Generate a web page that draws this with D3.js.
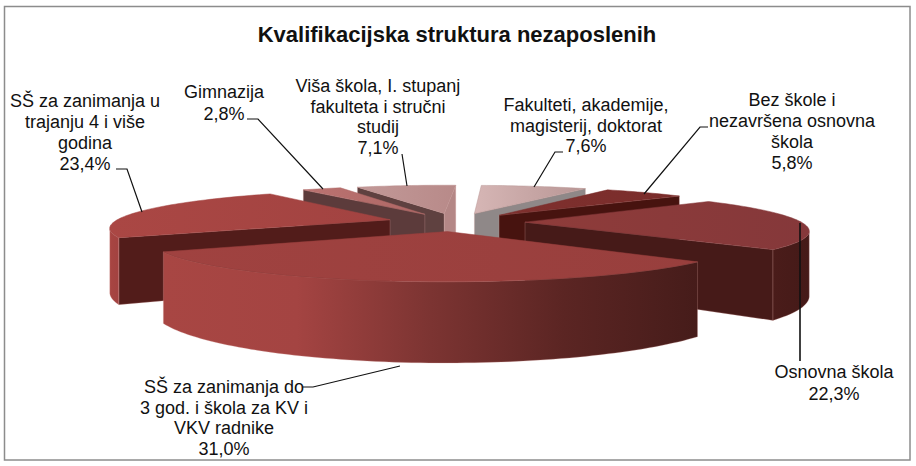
<!DOCTYPE html>
<html>
<head>
  <meta charset="utf-8">
  <script src="https://cdnjs.cloudflare.com/ajax/libs/d3/7.8.5/d3.min.js"></script>
  <style>
    body { margin: 0; background: #fff; }
    text { font-family: "Liberation Sans", Arial, sans-serif; fill: #111; }
  </style>
</head>
<body>
  <div id="chart"></div>
  <script>
    const categories = [
      'Fakulteti, akademije, magisterij, doktorat',
      'Bez škole i nezavršena osnovna škola',
      'Osnovna škola',
      'SŠ za zanimanja do 3 god. i škola za KV i VKV radnike',
      'SŠ za zanimanja u trajanju 4 i više godina',
      'Gimnazija',
      'Viša škola, I. stupanj fakulteta i stručni studij'
    ];
    const values = [7.6, 5.8, 22.3, 31.0, 23.4, 2.8, 7.1];
    const valueLabels = ['7,6%', '5,8%', '22,3%', '31,0%', '23,4%', '2,8%', '7,1%'];
    const labelLines = [
      ['Fakulteti, akademije,', 'magisterij, doktorat'],
      ['Bez škole i', 'nezavršena osnovna', 'škola'],
      ['Osnovna škola'],
      ['SŠ za zanimanja do', '3 god. i škola za KV i', 'VKV radnike'],
      ['SŠ za zanimanja u', 'trajanju 4 i više', 'godina'],
      ['Gimnazija'],
      ['Viša škola, I. stupanj', 'fakulteta i stručni', 'studij']
    ];

    // label layout: [center x, first line y, line step]
    const labelPos = [
      [586, 111, 20.5], [792, 106, 21], [834, 378, 22], [224, 393, 20.5],
      [85, 107, 21], [224, 98, 21.5], [378, 92, 20.5]
    ];
    const leaders = [
      [[563, 152], [555, 152], [534, 187]],
      [[708, 127], [700, 127], [644, 194]],
      [[800, 223], [800, 361]],
      [[303, 387], [313, 387], [400, 366]],
      [[116, 169], [127, 169], [142, 212]],
      [[247, 119], [258, 119], [323, 189]],
      [[402, 154], [407, 186]]
    ];

    // slice colours: cap left/right, side faces (start, end), outer wall stops
    const topColors = [
      ['#d6b6b5', '#b89695'], ['#7f302e', '#7a2d2b'], ['#8f3c3a', '#85383a'], ['#a04240', '#983f3d'],
      ['#aa4744', '#a24341'], ['#bb7371', '#ae6765'], ['#c29998', '#b88a89']
    ];
    const sideColors = [
      ['#a09898', '#8f8888'], ['#47130f', '#47130f'], ['#461a18', '#461a18'], ['#4a1e1c', '#4a1e1c'],
      ['#521c1a', '#521c1a'], ['#5c3b3b', '#5c3b3b'], ['#5f4140', '#b48786']
    ];
    const wallColors = [
      ['#a09898', '#8f8888'], ['#47130f', '#47130f'], ['#4a1c1a', '#451a18'],
      ['#a84643', '#a44442', '#7c3432', '#5b2523', '#461c1a'],
      ['#a84542', '#a24240'], ['#5c3b3b', '#5c3b3b'], ['#bd8f8e', '#ac8180']
    ];

    const width = 916;
    const height = 466;

    // flat plane of the pie (unit radius) seen in perspective
    const CX = 456, CY = 222, RX = 276, RY = 36.5, THICK = 62, PERSP = 0.19;
    const EXPLODE = 0.25;
    const ROTATE = 2.5 * Math.PI / 180;

    function project(x, y, down) {
      const w = 1 - PERSP * y;
      return [CX + x * RX / w, CY + (y * RY + down * THICK) / w];
    }

    const svg = d3.select('#chart').append('svg')
      .attr('width', width)
      .attr('height', height);

    svg.append('rect')
      .attr('x', 4.5).attr('y', 6.5)
      .attr('width', 905.5).attr('height', 453.5)
      .attr('fill', '#fff')
      .attr('stroke', '#8c8c8c')
      .attr('stroke-width', 1.5);

    svg.append('text')
      .attr('x', 457).attr('y', 42)
      .attr('text-anchor', 'middle')
      .attr('font-size', 22)
      .attr('font-weight', 'bold')
      .text('Kvalifikacijska struktura nezaposlenih');

    const pie = d3.pie().sort(null).startAngle(ROTATE).endAngle(ROTATE + 2 * Math.PI);
    const arcs = pie(values).map((d, i) => {
      const mid = (d.startAngle + d.endAngle) / 2;
      return {
        i,
        start: d.startAngle,
        end: d.endAngle,
        ox: EXPLODE * Math.sin(mid),
        oy: -EXPLODE * Math.cos(mid)
      };
    });

    const line = d3.line();
    const defs = svg.append('defs');
    const pieG = svg.append('g');

    function xGradient(id, xs, colors) {
      const grad = defs.append('linearGradient')
        .attr('id', id)
        .attr('gradientUnits', 'userSpaceOnUse')
        .attr('x1', xs[0]).attr('x2', xs[1])
        .attr('y1', 0).attr('y2', 0);
      colors.forEach((c, k) => {
        grad.append('stop').attr('offset', k / (colors.length - 1)).attr('stop-color', c);
      });
      return 'url(#' + id + ')';
    }

    // far slices first
    arcs.slice().sort((a, b) => a.oy - b.oy).forEach(s => {
      const g = pieG.append('g');
      const pt = (ang, down) => project(s.ox + Math.sin(ang), s.oy - Math.cos(ang), down);
      const apex = down => project(s.ox, s.oy, down);

      const steps = Math.max(4, Math.ceil((s.end - s.start) * 40));
      const angles = d3.range(steps + 1).map(k => s.start + (s.end - s.start) * k / steps);

      // side faces, only the ones facing the viewer
      [s.start, s.end].forEach((ang, k) => {
        const quad = k === 0
          ? [apex(0), pt(ang, 0), pt(ang, 1), apex(1)]
          : [pt(ang, 0), apex(0), apex(1), pt(ang, 1)];
        if (d3.polygonArea(quad) > 0) {
          g.append('path')
            .attr('d', line(quad) + 'Z')
            .attr('fill', sideColors[s.i][k])
            .attr('stroke', '#d9a5a3')
            .attr('stroke-opacity', 0.45)
            .attr('stroke-width', 0.6);
        }
      });

      // outer wall: the front facing part of the rim as one shape
      const front = angles.filter((a, k) => {
        const b = angles[Math.min(k + 1, steps)], c = angles[Math.max(k - 1, 0)];
        return d3.polygonArea([pt(c, 0), pt(b, 0), pt(b, 1), pt(c, 1)]) > 0;
      });
      if (front.length > 1) {
        const rim = front.map(a => pt(a, 0)).concat(front.slice().reverse().map(a => pt(a, 1)));
        g.append('path')
          .attr('d', line(rim) + 'Z')
          .attr('fill', xGradient('wall' + s.i, d3.extent(rim, p => p[0]), wallColors[s.i]))
          .attr('stroke', '#d9a5a3')
          .attr('stroke-opacity', 0.45)
          .attr('stroke-width', 0.6);
      }

      // cap
      const capPts = [apex(0)].concat(angles.map(a => pt(a, 0)));
      g.append('path')
        .attr('d', line(capPts) + 'Z')
        .attr('fill', xGradient('cap' + s.i, d3.extent(capPts, p => p[0]), topColors[s.i]))
        .attr('stroke', topColors[s.i][1])
        .attr('stroke-width', 0.5);
    });

    svg.append('g').selectAll('path')
      .data(leaders)
      .join('path')
      .attr('d', d => line(d))
      .attr('fill', 'none')
      .attr('stroke', '#111')
      .attr('stroke-width', (d, i) => i === 2 ? 1.6 : 1.2);

    const labels = svg.append('g').attr('font-size', 18).attr('text-anchor', 'middle');
    labelLines.forEach((lines, i) => {
      const [x, y, step] = labelPos[i];
      lines.concat(valueLabels[i]).forEach((t, k) => {
        labels.append('text')
          .attr('x', x)
          .attr('y', y + k * step)
          .text(t);
      });
    });
  </script>
</body>
</html>
